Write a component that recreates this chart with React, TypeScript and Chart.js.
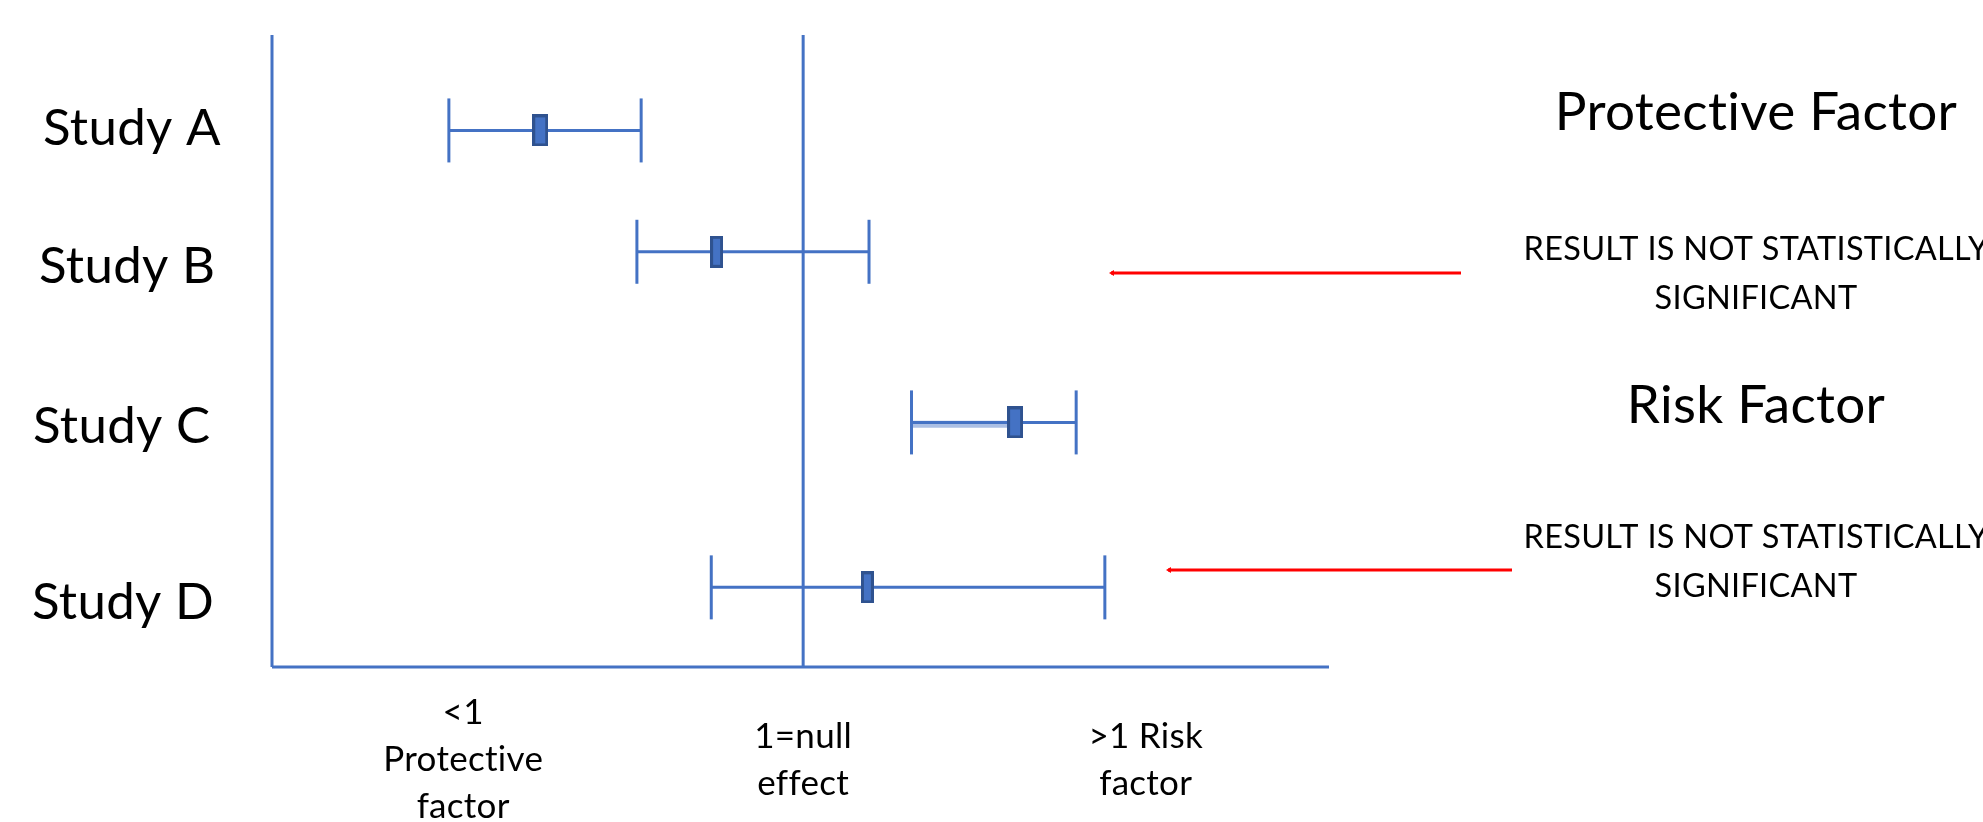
import React, { useEffect, useRef } from "react";
import { Chart, registerables } from "chart.js";

Chart.register(...registerables);

// ---------- data ----------
const studies = ["Study A", "Study B", "Study C", "Study D"];
const estimates = [0.505, 0.837, 1.399, 1.121];
const lowerCI = [0.333, 0.687, 1.204, 0.827];
const upperCI = [0.695, 1.124, 1.514, 1.568];
const rowPositions = [84.9, 65.7, 38.7, 12.6];
const nullValue = 1;
const xMin = 0;
const xMax = 1.99;
const yMin = 0;
const yMax = 100;
const xTickValues = [0.36, 1, 1.645];
const xTickLabels = [
  ["<1", "Protective", "factor"],
  ["1=null", "effect"],
  [">1 Risk", "factor"],
];
const sideTitles = ["Protective Factor", "Risk Factor"];
const sideNote = ["RESULT IS NOT STATISTICALLY", "SIGNIFICANT"];

// ---------- layout / style (not data) ----------
const W = 1983;
const H = 822;
const BLUE = "#4472C4";
const DARK = "#2F528F";
const markerWidths = [16, 13, 16, 13];
const labelX = [43, 39, 33, 32];
const labelBaselineDy = [15, 31, 21, 32];
const sideTitleBaselines = [130, 423];
const sideNoteBaselines = [
  [260, 309],
  [548, 597],
];
const arrows = [
  { x1: 1109, x2: 1461, y: 273 },
  { x1: 1166, x2: 1512, y: 570 },
];

function makeMarker(w: number, h: number): HTMLCanvasElement {
  const c = document.createElement("canvas");
  c.width = w;
  c.height = h;
  const g = c.getContext("2d")!;
  g.fillStyle = DARK;
  g.fillRect(0, 0, w, h);
  g.fillStyle = BLUE;
  g.fillRect(3, 3, w - 6, h - 6);
  return c;
}

const annotationPlugin = {
  id: "forestAnnotations",
  afterDraw(chart: any) {
    const ctx = chart.ctx as any;
    const xs = chart.scales.x;
    const ys = chart.scales.y;
    const area = chart.chartArea;
    ctx.save();
    ctx.fillStyle = "#000000";
    ctx.textBaseline = "alphabetic";
    try {
      ctx.letterSpacing = "0.3px";
    } catch (e) {}

    // study labels
    ctx.font = "51px Lato";
    ctx.textAlign = "left";
    studies.forEach((s, i) => {
      ctx.fillText(s, labelX[i], ys.getPixelForValue(rowPositions[i]) + labelBaselineDy[i]);
    });

    // x-axis category labels
    ctx.font = "35px Lato";
    ctx.textAlign = "center";
    const lh = 47;
    const mid = area.bottom + 104;
    xTickLabels.forEach((lines, i) => {
      const px = xs.getPixelForValue(xTickValues[i]);
      const first = mid - ((lines.length - 1) * lh) / 2;
      lines.forEach((l, j) => ctx.fillText(l, px, first + j * lh));
    });

    // side titles and notes
    const cx = 1756;
    ctx.font = "53px Lato";
    sideTitles.forEach((t, i) => ctx.fillText(t, cx, sideTitleBaselines[i]));
    ctx.font = "32.5px Lato";
    sideNoteBaselines.forEach((bl) => {
      sideNote.forEach((t, j) => ctx.fillText(t, cx, bl[j]));
    });

    // red arrows
    ctx.strokeStyle = "#FF0000";
    ctx.fillStyle = "#FF0000";
    ctx.lineWidth = 3;
    arrows.forEach((a) => {
      ctx.beginPath();
      ctx.moveTo(a.x2, a.y);
      ctx.lineTo(a.x1 + 2, a.y);
      ctx.stroke();
      ctx.beginPath();
      ctx.moveTo(a.x1, a.y);
      ctx.lineTo(a.x1 + 5, a.y - 3);
      ctx.lineTo(a.x1 + 5, a.y + 3);
      ctx.closePath();
      ctx.fill();
    });
    ctx.restore();
  },
};

export default function App() {
  const ref = useRef<HTMLCanvasElement | null>(null);

  useEffect(() => {
    document.body.style.margin = "0";
    const canvas = ref.current!;
    const markers = markerWidths.map((w) => makeMarker(w, 32));

    const datasets: any[] = [];

    // estimate markers (on top)
    datasets.push({
      type: "scatter",
      label: "Estimates",
      data: estimates.map((e, i) => ({ x: e, y: rowPositions[i] })),
      pointStyle: markers,
      pointRadius: 16,
      order: 0,
      clip: false,
    });

    // confidence intervals with end caps
    studies.forEach((s, i) => {
      datasets.push({
        type: "line",
        label: s + " CI",
        data: [
          { x: lowerCI[i], y: rowPositions[i] },
          { x: upperCI[i], y: rowPositions[i] },
        ],
        borderColor: BLUE,
        borderWidth: 3,
        pointStyle: "line",
        pointRotation: 90,
        pointRadius: 32,
        pointBorderWidth: 3,
        pointBorderColor: BLUE,
        pointBackgroundColor: BLUE,
        order: 1,
        clip: false,
      });
    });

    // faded highlight under Study C's interval (as in the source image)
    datasets.push({
      type: "line",
      label: "C highlight",
      data: [
        { x: lowerCI[2], y: rowPositions[2] - 0.3 },
        { x: estimates[2], y: rowPositions[2] - 0.3 },
      ],
      borderColor: "rgba(68,114,196,0.45)",
      borderWidth: 7,
      pointRadius: 0,
      order: 2,
      clip: false,
    });

    // null-effect line and axes
    datasets.push({
      type: "line",
      label: "Null",
      data: [
        { x: nullValue, y: yMin },
        { x: nullValue, y: yMax },
      ],
      borderColor: BLUE,
      borderWidth: 3,
      pointRadius: 0,
      order: 3,
      clip: false,
    });
    datasets.push({
      type: "line",
      label: "Y axis",
      data: [
        { x: xMin, y: yMin },
        { x: xMin, y: yMax },
      ],
      borderColor: BLUE,
      borderWidth: 3,
      pointRadius: 0,
      order: 3,
      clip: false,
    });
    datasets.push({
      type: "line",
      label: "X axis",
      data: [
        { x: xMin, y: yMin },
        { x: xMax, y: yMin },
      ],
      borderColor: BLUE,
      borderWidth: 3,
      pointRadius: 0,
      order: 3,
      clip: false,
    });

    const chart = new Chart(canvas, {
      type: "scatter",
      data: { datasets },
      options: {
        responsive: false,
        animation: false,
        devicePixelRatio: 1,
        layout: { padding: { left: 272, right: W - 1329, top: 32, bottom: H - 667 } },
        plugins: {
          legend: { display: false },
          tooltip: { enabled: false },
        },
        events: [],
        scales: {
          x: { type: "linear", min: xMin, max: xMax, display: false },
          y: { type: "linear", min: yMin, max: yMax, display: false },
        },
      },
      plugins: [annotationPlugin],
    });

    return () => chart.destroy();
  }, []);

  return (
    <div style={{ position: "absolute", left: 0, top: 0, width: W, height: H, background: "#ffffff" }}>
      <canvas ref={ref} width={W} height={H} style={{ display: "block", width: W, height: H }} />
    </div>
  );
}
